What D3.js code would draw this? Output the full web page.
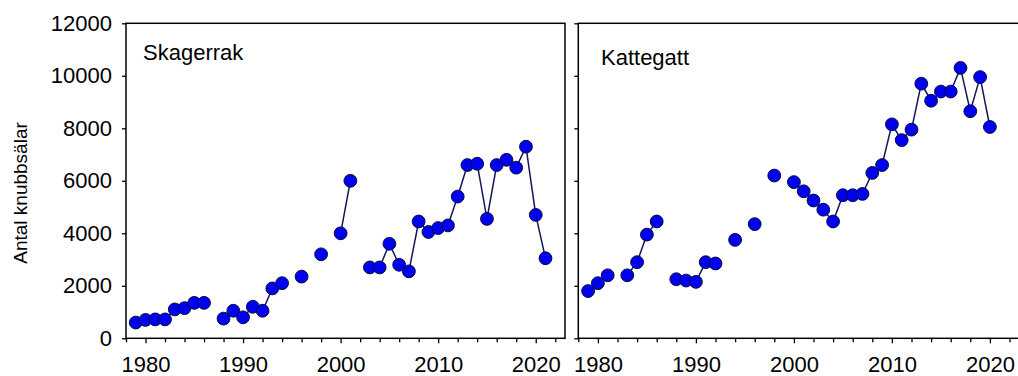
<!DOCTYPE html>
<html>
<head>
<meta charset="utf-8">
<script src="https://cdn.jsdelivr.net/npm/d3@7"></script>
<style>
  html, body { margin: 0; padding: 0; background: #fff; }
  svg { display: block; }
  text { font-family: "Liberation Sans", Arial, sans-serif; fill: #000; }
</style>
</head>
<body>
<svg id="chart" width="1018" height="376"></svg>
<script>
// Harbour seal counts (antal knubbsälar) per year, two areas
const skagerrakYears = [1979, 1980, 1981, 1982, 1983, 1984, 1985, 1986,
  1988, 1989, 1990, 1991, 1992, 1993, 1994, 1996, 1998, 2000, 2001,
  2003, 2004, 2005, 2006, 2007, 2008, 2009, 2010, 2011, 2012, 2013, 2014,
  2015, 2016, 2017, 2018, 2019, 2020, 2021];
const skagerrakCounts = [600, 700, 720, 720, 1100, 1150, 1350, 1350,
  750, 1050, 800, 1200, 1050, 1900, 2100, 2350, 3200, 4000, 6000,
  2700, 2700, 3600, 2800, 2550, 4450, 4050, 4200, 4300, 5400, 6600, 6650,
  4550, 6600, 6800, 6500, 7300, 4700, 3050];

const kattegattYears = [1979, 1980, 1981, 1983, 1984, 1985, 1986,
  1988, 1989, 1990, 1991, 1992, 1994, 1996, 1998,
  2000, 2001, 2002, 2003, 2004, 2005, 2006, 2007, 2008, 2009, 2010,
  2011, 2012, 2013, 2014, 2015, 2016, 2017, 2018, 2019, 2020];
const kattegattCounts = [1800, 2100, 2400, 2400, 2900, 3950, 4450,
  2250, 2200, 2150, 2900, 2850, 3750, 4350, 6200,
  5950, 5600, 5250, 4900, 4450, 5450, 5450, 5500, 6300, 6600, 8150,
  7550, 7950, 9700, 9050, 9400, 9400, 10300, 8650, 9950, 8050];

const panelTitles = ["Skagerrak", "Kattegatt"];
const yTickValues = [0, 2000, 4000, 6000, 8000, 10000, 12000];
const xTickValues = d3.range(1978, 2023, 2);
const xLabelValues = [1980, 1990, 2000, 2010, 2020];
const yearDomain = [1978, 2023];
const countDomain = [0, 12000];
const yTitle = "Antal knubbsälar";

const svg = d3.select("#chart");
const FONT = 22;

const y = d3.scaleLinear().domain(countDomain).range([338.3, 23.3]);

const panels = [
  { title: panelTitles[0], years: skagerrakYears, counts: skagerrakCounts,
    x0: 126, x1: 565, labelY: true, titleX: 143, titleY: 60 },
  { title: panelTitles[1], years: kattegattYears, counts: kattegattCounts,
    x0: 578.3, x1: 1019.3, labelY: false, titleX: 601, titleY: 65 }
];

panels.forEach(p => {
  const x = d3.scaleLinear().domain(yearDomain).range([p.x0, p.x1]);
  const g = svg.append("g");

  // frame
  g.append("rect")
    .attr("x", p.x0).attr("y", y(12000))
    .attr("width", p.x1 - p.x0).attr("height", y(0) - y(12000))
    .attr("fill", "none").attr("stroke", "#000").attr("stroke-width", 1.5);

  // y axis
  const yAxis = d3.axisLeft(y).tickValues(yTickValues).tickSizeInner(4)
    .tickSizeOuter(0).tickPadding(10)
    .tickFormat(p.labelY ? d3.format("d") : () => "");
  const ya = g.append("g").attr("transform", `translate(${p.x0},0)`).call(yAxis);
  ya.select(".domain").remove();
  ya.selectAll("line").attr("stroke", "#000").attr("stroke-width", 1.3);
  ya.selectAll("text").style("font-size", FONT + "px")
    .style("font-family", "'Liberation Sans', Arial, sans-serif");

  // x axis: ticks every two years, labels each decade
  const xAxis = d3.axisBottom(x).tickValues(xTickValues)
    .tickSizeInner(4).tickSizeOuter(0).tickPadding(14)
    .tickFormat(d => xLabelValues.includes(d) ? String(d) : "");
  const xa = g.append("g").attr("transform", `translate(0,${y(0)})`).call(xAxis);
  xa.select(".domain").remove();
  xa.selectAll("line").attr("stroke", "#000").attr("stroke-width", 1.3)
    .attr("y2", d => xLabelValues.includes(d) ? 5 : 4);
  xa.selectAll("text").style("font-size", FONT + "px")
    .style("font-family", "'Liberation Sans', Arial, sans-serif");

  // panel title
  g.append("text").attr("x", p.titleX).attr("y", p.titleY)
    .style("font-size", FONT + "px").text(p.title);

  // line segments join consecutive survey years only
  const byYear = new Map(p.years.map((yr, i) => [yr, p.counts[i]]));
  const fullYears = d3.range(d3.min(p.years), d3.max(p.years) + 1);
  const series = fullYears.map(yr => ({ year: yr, v: byYear.has(yr) ? byYear.get(yr) : null }));
  const line = d3.line().defined(d => d.v != null)
    .x(d => x(d.year)).y(d => y(d.v));
  g.append("path").datum(series)
    .attr("d", line).attr("fill", "none")
    .attr("stroke", "#15155a").attr("stroke-width", 1.5);

  g.selectAll("circle.pt").data(p.years.map((yr, i) => ({ year: yr, v: p.counts[i] })))
    .join("circle").attr("class", "pt")
    .attr("cx", d => x(d.year)).attr("cy", d => y(d.v)).attr("r", 6.4)
    .attr("fill", "#0000f0").attr("stroke", "#0a0a40").attr("stroke-width", 1);
});

// shared y-axis title
svg.append("text")
  .attr("transform", "translate(27,193) rotate(-90)")
  .attr("text-anchor", "middle")
  .style("font-size", "19px")
  .text(yTitle);
</script>
</body>
</html>
